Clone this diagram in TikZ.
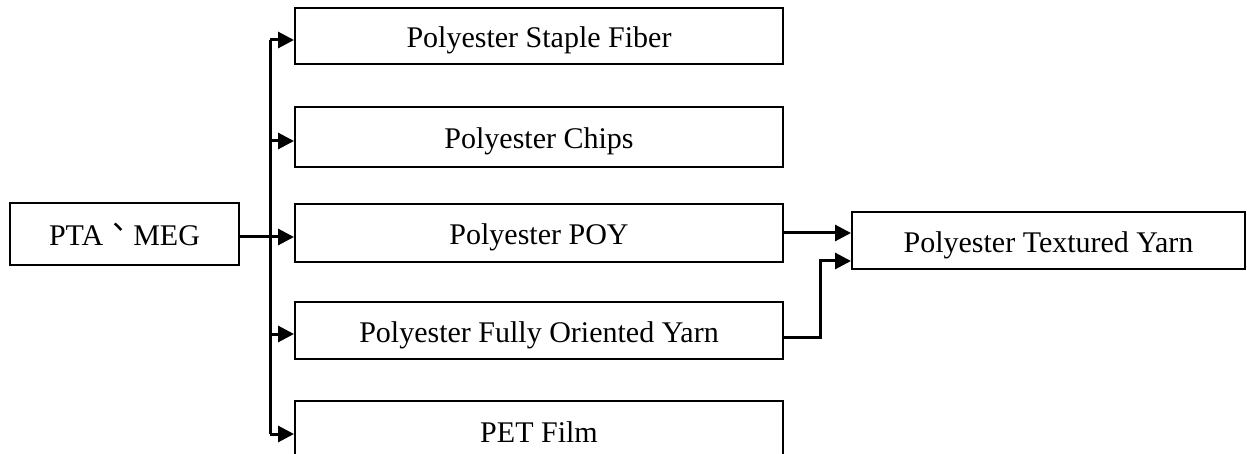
\documentclass[tikz,border=0pt]{standalone}
\usepackage{fontspec}
\setmainfont{Liberation Serif}
\newfontfamily\cjk{Noto Sans CJK TC}
\usetikzlibrary{arrows.meta,calc}
\begin{document}
\begin{tikzpicture}[x=1pt,y=-1pt,
  box/.style={draw,line width=2pt,inner sep=0pt,text height=24pt,text depth=0pt,
    font=\fontsize{30}{36}\selectfont,anchor=center},
  midbox/.style={box,minimum width=488pt},
  link/.style={line width=3pt},
  arr/.style={link,-{Triangle[length=16pt,width=16pt]}}]
\useasboundingbox (0,0) rectangle (1247,454);
\clip (0,0) rectangle (1247,454);
% raw material
\node[box,minimum width=229pt,minimum height=62pt] (src) at (124.5,234)
  {PTA\raisebox{7pt}{\cjk 、}MEG};
% products
\node[midbox,minimum height=56pt] (b1) at (539,36)  {Polyester Staple Fiber};
\node[midbox,minimum height=60pt] (b2) at (539,137) {Polyester Chips};
\node[midbox,minimum height=58pt] (b3) at (539,233) {Polyester POY};
\node[midbox,minimum height=57pt] (b4) at (539,330) {Polyester Fully Oriented Yarn};
\node[midbox,minimum height=58pt] (b5) at (539,430) {PET Film};
% downstream product
\node[box,minimum width=393pt,minimum height=57pt] (tex) at (1048.5,240.5)
  {Polyester Textured Yarn};
% distribution bus
\coordinate (bus) at (270,0);
\draw[arr] ([yshift=-3pt]src.east) -- ([yshift=-4pt]b3.west);
\draw[link] ([yshift=-4pt]b1.west -| bus) -- ([yshift=-4pt]b5.west -| bus);
\foreach \b in {b1,b2,b4,b5}
  \draw[arr] ([yshift=-4pt]\b.west -| bus) -- ([yshift=-4pt]\b.west);
% into textured yarn
\draw[arr] (b3.east) -- (b3.east -| tex.west);
\coordinate (jog) at (820,0);
\draw[arr] ([yshift=-7pt]b4.east) -- ([yshift=-7pt]b4.east -| jog)
  |- ($(tex.south west)+(0,-9)$);
\end{tikzpicture}
\end{document}
